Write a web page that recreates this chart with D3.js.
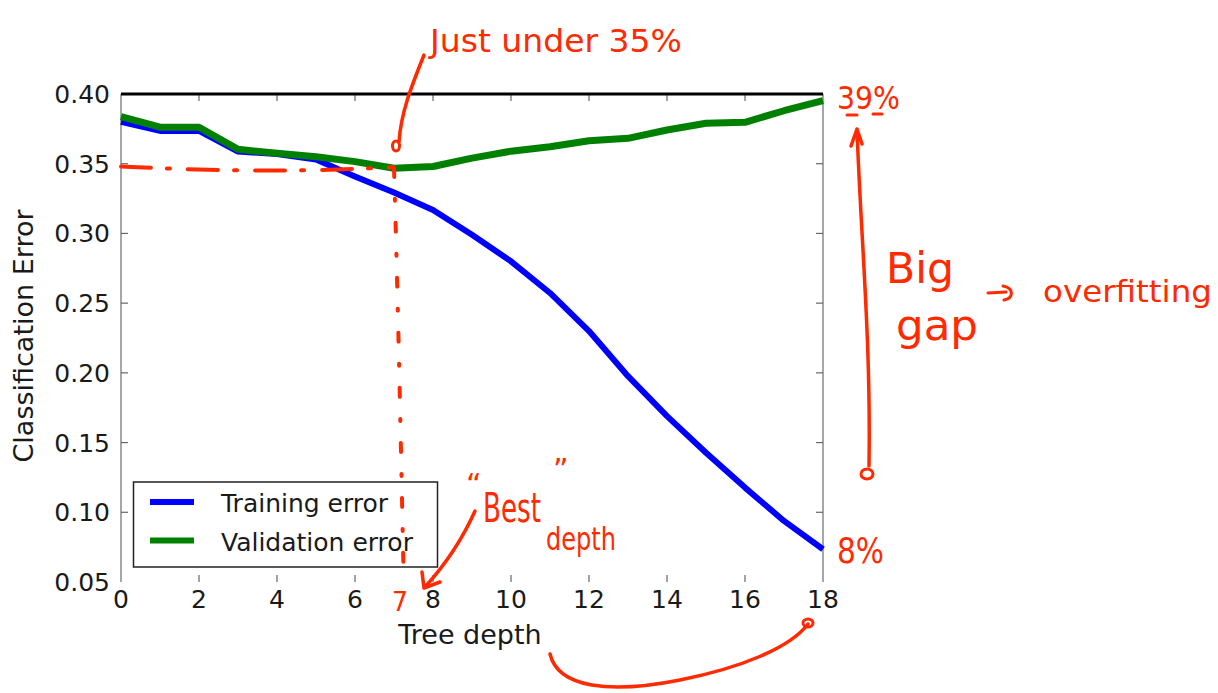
<!DOCTYPE html>
<html>
<head>
<meta charset="utf-8">
<script src="https://cdn.jsdelivr.net/npm/d3@7"></script>
<style>
  html, body { margin: 0; padding: 0; background: #fff; }
  svg { display: block; }
  .tick-label { font-family: "DejaVu Sans", sans-serif; font-size: 25px; fill: #1a1a1a; }
  .axis-label { font-family: "DejaVu Sans", sans-serif; font-size: 27px; fill: #1a1a1a; }
  .legend-text { font-family: "DejaVu Sans", sans-serif; font-size: 25px; fill: #1a1a1a; }
  .hand { font-family: "DejaVu Sans", sans-serif; fill: #ff2a00; }
</style>
</head>
<body>
<svg id="chart" width="1218" height="693"></svg>
<script>
// ---- data ----
const depths = [0, 1, 2, 3, 4, 5, 6, 7, 8, 9, 10, 11, 12, 13, 14, 15, 16, 17, 18];
const trainingError = [0.380, 0.3735, 0.3735, 0.3587, 0.3570, 0.3530, 0.3408, 0.3293, 0.3168, 0.2990, 0.2800, 0.2573, 0.2300, 0.1976, 0.1690, 0.1427, 0.1177, 0.0938, 0.0735];
const validationError = [0.3837, 0.3762, 0.3762, 0.3603, 0.3575, 0.3550, 0.3515, 0.3467, 0.3480, 0.3540, 0.3590, 0.3622, 0.3665, 0.3682, 0.3742, 0.3790, 0.3797, 0.3880, 0.3952];
const xTicks = [0, 2, 4, 6, 8, 10, 12, 14, 16, 18];
const yTicks = [0.05, 0.10, 0.15, 0.20, 0.25, 0.30, 0.35, 0.40];
const seriesNames = ["Training error", "Validation error"];
const bestDepth = 7.1;
const bestValue = 0.348;

const svg = d3.select("#chart");
const x = d3.scaleLinear().domain([0, 18]).range([121, 823]);
const y = d3.scaleLinear().domain([0.05, 0.40]).range([582, 94]);

// ---- spines ----
svg.append("line").attr("x1", x(0)).attr("x2", x(0)).attr("y1", y(0.40)).attr("y2", y(0.05))
  .attr("stroke", "#8a8a8a").attr("stroke-width", 1.5);
svg.append("line").attr("x1", x(18)).attr("x2", x(18)).attr("y1", y(0.40)).attr("y2", y(0.05))
  .attr("stroke", "#8a8a8a").attr("stroke-width", 1.5);

// ---- ticks (inward) ----
const tickColor = "#666";
xTicks.forEach(t => {
  if (t === 0 || t === 18) return;
  svg.append("line").attr("x1", x(t)).attr("x2", x(t)).attr("y1", y(0.40)).attr("y2", y(0.40) + 7)
    .attr("stroke", tickColor).attr("stroke-width", 1.2);
  svg.append("line").attr("x1", x(t)).attr("x2", x(t)).attr("y1", y(0.05)).attr("y2", y(0.05) - 7)
    .attr("stroke", tickColor).attr("stroke-width", 1.2);
});
yTicks.forEach(t => {
  if (t === 0.05 || t === 0.40) return;
  svg.append("line").attr("x1", x(0)).attr("x2", x(0) + 7).attr("y1", y(t)).attr("y2", y(t))
    .attr("stroke", tickColor).attr("stroke-width", 1.2);
  svg.append("line").attr("x1", x(18)).attr("x2", x(18) - 7).attr("y1", y(t)).attr("y2", y(t))
    .attr("stroke", tickColor).attr("stroke-width", 1.2);
});

// tick labels
svg.selectAll(".ytl").data(yTicks).enter().append("text")
  .attr("class", "tick-label").attr("text-anchor", "end")
  .attr("x", x(0) - 11).attr("y", d => y(d) + 9)
  .text(d => d.toFixed(2));
svg.selectAll(".xtl").data(xTicks).enter().append("text")
  .attr("class", "tick-label").attr("text-anchor", "middle")
  .attr("x", d => x(d)).attr("y", y(0.05) + 26)
  .text(d => d);

// axis labels
svg.append("text").attr("class", "axis-label").attr("text-anchor", "middle")
  .attr("x", (x(0) + x(18)) / 2 - 2).attr("y", y(0.05) + 62).text("Tree depth");
svg.append("text").attr("class", "axis-label").attr("text-anchor", "middle")
  .attr("transform", `translate(33,${(y(0.40) + y(0.05)) / 2 - 2}) rotate(-90)`)
  .text("Classification Error");

// ---- lines ----
const line = d3.line().x((d, i) => x(depths[i])).y(d => y(d));
svg.append("path").datum(trainingError).attr("d", line)
  .attr("fill", "none").attr("stroke", "#0000ff").attr("stroke-width", 6)
  .attr("stroke-linejoin", "round");
svg.append("path").datum(validationError).attr("d", line)
  .attr("fill", "none").attr("stroke", "#008000").attr("stroke-width", 7)
  .attr("stroke-linejoin", "round");

// top spine (black, thick)
svg.append("line").attr("x1", x(0)).attr("x2", x(18)).attr("y1", y(0.40)).attr("y2", y(0.40))
  .attr("stroke", "#000").attr("stroke-width", 3);

// ---- legend ----
const lg = svg.append("g");
lg.append("rect").attr("x", 133.5).attr("y", 482).attr("width", 304).attr("height", 85)
  .attr("fill", "#fff").attr("stroke", "#222").attr("stroke-width", 1.5);
const legColors = ["#0000ff", "#008000"];
seriesNames.forEach((name, i) => {
  const cy = 502 + i * 38.5;
  lg.append("line").attr("x1", 150).attr("x2", 194).attr("y1", cy).attr("y2", cy)
    .attr("stroke", legColors[i]).attr("stroke-width", 6);
  lg.append("text").attr("class", "legend-text").attr("x", 221).attr("y", cy + 10).text(name);
});

// ---- hand-drawn annotations ----
const red = "#ff2a00";
const ann = svg.append("g").attr("stroke-linecap", "round").attr("stroke-linejoin", "round");

// text squeezed horizontally to a target width via transform (keeps bbox honest)
function handText(str, tx, ty, size, width) {
  const t = ann.append("text").attr("class", "hand").attr("font-size", size).text(str);
  const natural = t.node().getComputedTextLength();
  const sx = width ? width / natural : 1;
  t.attr("transform", `translate(${tx},${ty}) scale(${sx},1)`);
  return t;
}

// horizontal dash-dot guide at best value
ann.append("path")
  .attr("d", d3.line().curve(d3.curveBasis)([[x(0), y(bestValue)], [x(2.5), y(0.345)], [x(5), y(0.345)], [x(bestDepth - 0.1), y(0.3475)]]))
  .attr("fill", "none").attr("stroke", red).attr("stroke-width", 4)
  .attr("stroke-dasharray", "30,16,3,18");
// vertical dotted guide at best depth
ann.append("path")
  .attr("d", d3.line().curve(d3.curveBasis)([[x(bestDepth - 0.1), y(0.347)], [x(bestDepth), y(0.25)], [x(bestDepth + 0.15), y(0.05)]]))
  .attr("fill", "none").attr("stroke", red).attr("stroke-width", 4)
  .attr("stroke-dasharray", "9,22,2,22");

// "Just under 35%" + arrow
handText("Just under 35%", 430, 52, 32, 252);
ann.append("path").attr("d", "M424,55 C412,85 401,112 399,142")
  .attr("fill", "none").attr("stroke", red).attr("stroke-width", 3.5);
ann.append("ellipse").attr("cx", 396).attr("cy", 146).attr("rx", 3.5).attr("ry", 5)
  .attr("fill", "none").attr("stroke", red).attr("stroke-width", 3);

// "7" under best depth
handText("7", 392, 611, 26, 16);

// "Best" depth
handText("\u201C", 466, 495, 30);
handText("Best", 483, 522, 40, 58);
handText("\u201D", 553, 480, 30);
handText("depth", 546, 550, 32, 70);
ann.append("path").attr("d", "M475,511 C462,540 445,565 425,587")
  .attr("fill", "none").attr("stroke", red).attr("stroke-width", 3.5);
ann.append("path").attr("d", "M422,572 L424,588 L440,582")
  .attr("fill", "none").attr("stroke", red).attr("stroke-width", 3.5);

// curved arrow from axis label to depth 18
ann.append("path").attr("d", "M550,654 C558,688 610,694 680,680 C740,668 790,648 808,624")
  .attr("fill", "none").attr("stroke", red).attr("stroke-width", 3.5);
ann.append("ellipse").attr("cx", 808).attr("cy", 623).attr("rx", 5).attr("ry", 4)
  .attr("fill", "none").attr("stroke", red).attr("stroke-width", 3);

// "39%"
handText("39%", 837, 109, 32, 63);
ann.append("path").attr("d", "M847,115 L857,115 M873,114 L882,114")
  .attr("fill", "none").attr("stroke", red).attr("stroke-width", 3);

// vertical double arrow (big gap)
ann.append("path").attr("d", "M857,130 C861,240 871,340 869,466")
  .attr("fill", "none").attr("stroke", red).attr("stroke-width", 3.5);
ann.append("path").attr("d", "M851,146 L857,129 L862,144")
  .attr("fill", "none").attr("stroke", red).attr("stroke-width", 3.5);
ann.append("ellipse").attr("cx", 867).attr("cy", 474).attr("rx", 6).attr("ry", 5)
  .attr("fill", "none").attr("stroke", red).attr("stroke-width", 3);

// "Big gap" -> overfitting
handText("Big", 886, 283, 42, 68);
handText("gap", 896, 340, 42, 82);
ann.append("path").attr("d", "M988,293 L1006,292 M1003,286 C1014,288 1014,298 1004,300")
  .attr("fill", "none").attr("stroke", red).attr("stroke-width", 3);
handText("overfitting", 1043, 302, 30, 169);

// "8%"
handText("8%", 837, 563, 36, 47);
</script>
</body>
</html>
